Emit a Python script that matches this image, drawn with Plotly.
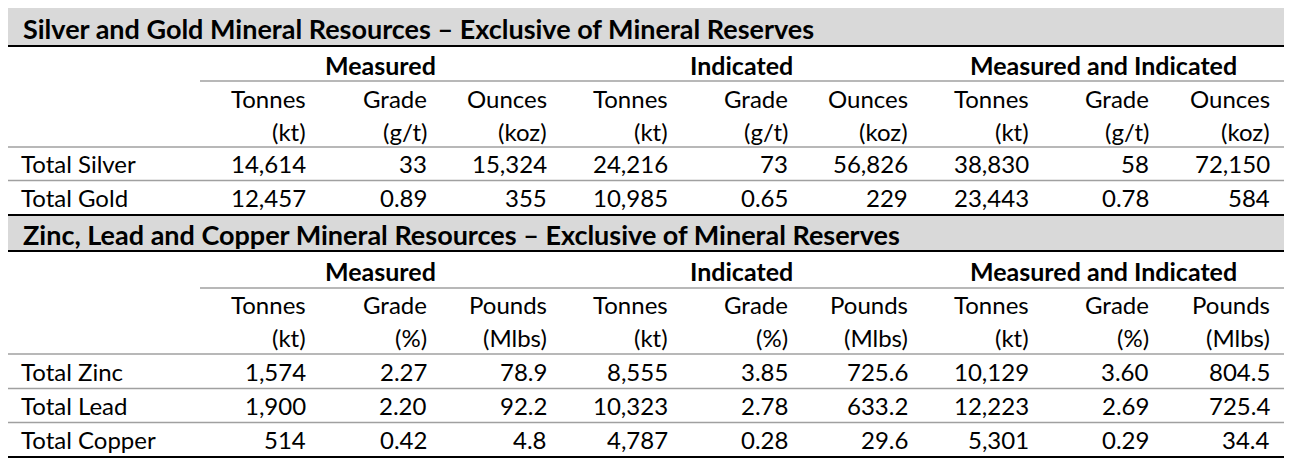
import plotly.graph_objects as go

# ---- data ----
title_ag = 'Silver and Gold Mineral Resources \u2013 Exclusive of Mineral Reserves'
title_base = 'Zinc, Lead and Copper Mineral Resources \u2013 Exclusive of Mineral Reserves'
groups = ['Measured', 'Indicated', 'Measured and Indicated']

head_ag = ['Tonnes', 'Grade', 'Ounces']
units_ag = ['(kt)', '(g/t)', '(koz)']
rows_ag = ['Total Silver', 'Total Gold']
silver = ['14,614', '33', '15,324', '24,216', '73', '56,826', '38,830', '58', '72,150']
gold = ['12,457', '0.89', '355', '10,985', '0.65', '229', '23,443', '0.78', '584']

head_base = ['Tonnes', 'Grade', 'Pounds']
units_base = ['(kt)', '(%)', '(Mlbs)']
rows_base = ['Total Zinc', 'Total Lead', 'Total Copper']
zinc = ['1,574', '2.27', '78.9', '8,555', '3.85', '725.6', '10,129', '3.60', '804.5']
lead = ['1,900', '2.20', '92.2', '10,323', '2.78', '633.2', '12,223', '2.69', '725.4']
copper = ['514', '0.42', '4.8', '4,787', '0.28', '29.6', '5,301', '0.29', '34.4']

# ---- layout constants (pixels) ----
W, H = 1293, 462
OFF = 8          # page body margin, axis ranges start there so data coords = page pixels
FONT = 'Lato'
FS = 24          # body text
FS_GRP = 25      # group headers
FS_TTL = 27      # band titles
X0, X1 = 5, 1284
XL = 19          # label column text start
XG = 200         # first data column left edge
CW = 120.4       # data column width
PAD = 12
GRAY = '#a0a0a0'
BAND = '#d9d9d9'

fig = go.Figure()
shapes = []
ann = []


def hline(y, x0=X0, x1=X1, color='black', w=1.2):
    shapes.append(dict(type='line', xref='x', yref='y', x0=x0, x1=x1, y0=y, y1=y,
                       line=dict(color=color, width=w)))


def txt(x, y, s, anchor='right', bold=False, size=FS):
    ann.append(dict(x=x, y=y, xref='x', yref='y', text='<b>%s</b>' % s if bold else s,
                    showarrow=False, xanchor=anchor, yanchor='middle',
                    font=dict(family=FONT, size=size, color='black')))


def section(top, band_end, y_title, y_grp, y_gline, y_h1, y_h2, y_hline,
            title, heads, units, labels, data, y_rows, y_bottom):
    shapes.append(dict(type='rect', xref='x', yref='y', x0=X0, x1=X1, y0=top, y1=band_end,
                       fillcolor=BAND, line=dict(width=0), layer='below'))
    hline(top, w=2.2)
    hline(band_end, w=2.2)
    txt(XL + 2, y_title, title, anchor='left', bold=True, size=FS_TTL)
    for g, name in enumerate(groups):
        txt(XG + CW * (3 * g + 1.5), y_grp, name, anchor='center', bold=True, size=FS_GRP)
    hline(y_gline, x0=XG, color=GRAY, w=1.5)
    for c in range(9):
        xr = XG + CW * (c + 1) - PAD
        txt(xr, y_h1, heads[c % 3])
        txt(xr, y_h2, units[c % 3])
    hline(y_hline, color=GRAY, w=1.5)
    for r, (lab, vals) in enumerate(zip(labels, data)):
        y = y_rows[r]
        txt(XL, y, lab, anchor='left')
        for c, v in enumerate(vals):
            txt(XG + CW * (c + 1) - PAD, y, v)
        if r < len(labels) - 1:
            hline((y_rows[r] + y_rows[r + 1]) / 2, color=GRAY, w=1.5)
    hline(y_bottom, w=2.2)


section(7, 46, 28, 65, 81, 98, 131, 147, title_ag, head_ag, units_ag,
        rows_ag, [silver, gold], [163.5, 197.5], 215)
section(215, 251, 234, 271, 288, 304, 337, 354, title_base, head_base, units_base,
        rows_base, [zinc, lead, copper], [371.5, 405.5, 439.5], 457)

fig.update_layout(
    width=W - OFF, height=H - OFF, margin=dict(l=0, r=0, t=0, b=0),
    paper_bgcolor='white', plot_bgcolor='white',
    xaxis=dict(range=[OFF, W], visible=False, fixedrange=True),
    yaxis=dict(range=[H, OFF], visible=False, fixedrange=True),
    shapes=shapes, annotations=ann, showlegend=False,
)
fig.write_html('out.html', config={'displayModeBar': False})
